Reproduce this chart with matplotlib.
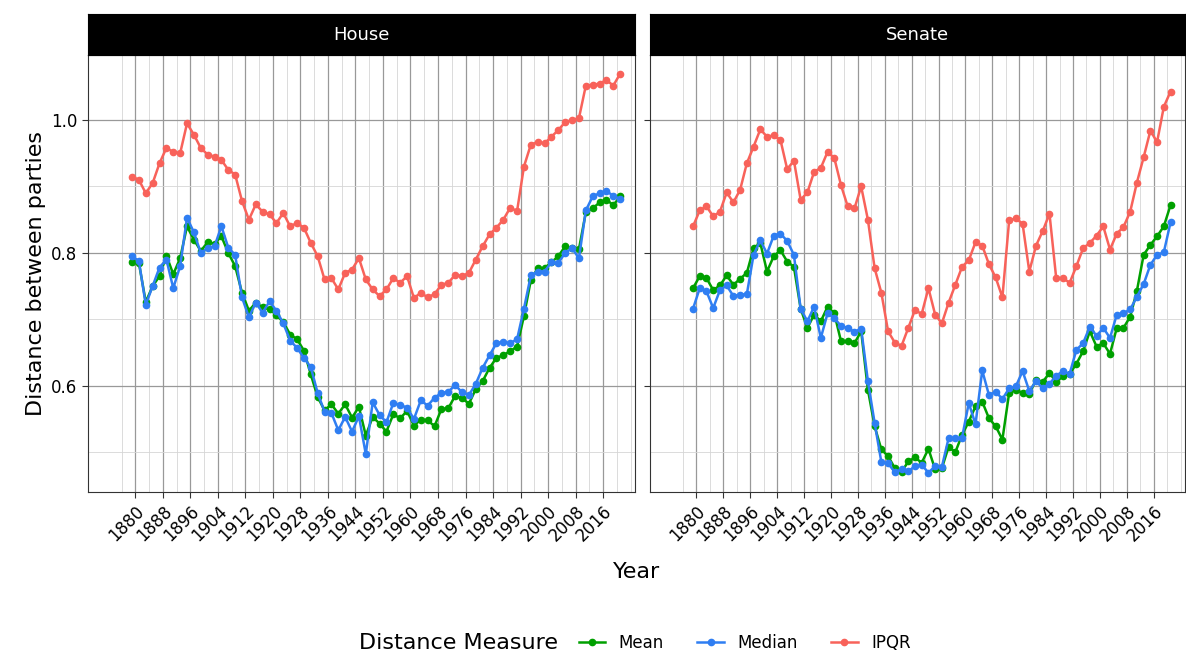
import numpy as np
import matplotlib.pyplot as plt
from matplotlib.lines import Line2D

years = np.arange(1879, 2022, 2)

house_mean = [.787, .785, .726, .75, .765, .796, .768, .792, .84, .82, .803, .816, .814, .825, .8, .78,
              .74, .713, .725, .718, .716, .706, .696, .677, .67, .653, .617, .583, .563, .572, .558, .572,
              .552, .568, .525,
              .553, .543, .531, .557, .551, .562, .54, .549, .548, .539, .565, .566, .585, .581, .573, .595,
              .607, .627, .642, .646, .652, .659, .705, .759, .777, .777, .786, .795, .81, .807, .806, .861,
              .867, .876, .88, .872, .885]
house_median = [.795, .788, .722, .75, .778, .79, .747, .78, .853, .831, .8, .807, .81, .84, .808, .797,
                .733, .703, .725, .71, .727, .713, .694, .668, .657, .642, .628, .589, .561, .559, .533, .553,
                .531, .554, .497,
                .575, .556, .545, .574, .571, .567, .55, .578, .57, .582, .589, .591, .601, .59, .586, .603,
                .627, .646, .664, .666, .664, .67, .716, .766, .772, .772, .786, .785, .8, .807, .792, .864,
                .885, .89, .893, .886, .881]
house_ipqr = [.915, .91, .89, .905, .935, .958, .952, .95, .995, .978, .958, .948, .945, .94, .925, .918,
              .878, .85, .873, .862, .858, .845, .86, .84, .845, .838, .815, .795, .76, .762, .745, .77,
              .775, .792, .76, .745, .735, .745, .762, .755, .765, .732, .74, .733, .738, .752, .755, .767,
              .765, .77, .79, .81, .828, .838, .85, .868, .863, .93, .963, .967, .965, .975, .985, .997,
              1.0, 1.003, 1.052, 1.053, 1.055, 1.06, 1.052, 1.07]

senate_mean = [.747, .765, .762, .744, .751, .766, .752, .761, .77, .807, .815, .772, .795, .804, .787, .779,
               .716, .687, .707, .697, .719, .709, .667, .667, .664, .682, .594, .539, .504, .494, .476, .47,
               .486, .492, .484, .505, .474, .476, .508, .5, .526, .546, .569, .576, .551, .539, .519, .589,
               .594, .589, .588, .609, .606, .619, .606, .614, .618, .633, .652, .682, .659, .664, .648, .687,
               .687, .704, .743, .797, .812, .825, .84, .872]
senate_median = [.716, .747, .742, .717, .744, .751, .735, .737, .738, .797, .819, .799, .826, .829, .818, .797,
                 .716, .697, .719, .672, .709, .702, .69, .687, .681, .686, .607, .544, .485, .483, .47, .474,
                 .471, .479, .481, .469, .479, .478, .521, .521, .522, .574, .542, .623, .586, .591, .58, .596,
                 .599, .622, .592, .607, .596, .603, .615, .622, .618, .654, .664, .689, .675, .687, .672, .707,
                 .709, .715, .734, .753, .782, .797, .801, .846]
senate_ipqr = [.84, .864, .87, .855, .862, .891, .876, .895, .935, .96, .986, .975, .977, .97, .926, .939,
               .88, .891, .922, .928, .952, .943, .902, .87, .867, .9, .85, .777, .74, .682, .665, .66,
               .687, .714, .708, .747, .707, .694, .725, .752, .779, .789, .816, .811, .783, .763, .733, .849,
               .852, .844, .772, .811, .833, .859, .762, .762, .755, .78, .807, .815, .826, .84, .805, .829,
               .839, .862, .906, .944, .984, .967, 1.02, 1.043]

panels = ["House", "Senate"]
data = {
    "House": [house_mean, house_median, house_ipqr],
    "Senate": [senate_mean, senate_median, senate_ipqr],
}
labels = ["Mean", "Median", "IPQR"]
colors = ["#00A000", "#2F7EF2", "#F8625A"]
xticks = np.arange(1880, 2017, 8)

fig = plt.figure(figsize=(11.86, 6.54), dpi=100)
W, H = 1186, 654
boxes = [(88, 635), (650, 1185)]
top, strip_top, bottom = 55, 14, 492

for i, p in enumerate(panels):
    x0, x1 = boxes[i]
    ax = fig.add_axes([x0 / W, 1 - bottom / H, (x1 - x0) / W, (bottom - top) / H])
    for vals, lab, c in zip(data[p], labels, colors):
        ax.plot(years, vals, color=c, lw=1.8, marker='o', ms=4.5, label=lab, zorder=3)
    ax.set_xlim(1866.2, 2025.3)
    ax.set_ylim(0.44, 1.098)
    ax.set_xticks(xticks)
    ax.set_xticklabels([str(x) for x in xticks], rotation=45, ha='right', rotation_mode='anchor', fontsize=12)
    ax.set_xticks(np.arange(1876, 2025, 4), minor=True)
    ax.set_yticks([0.6, 0.8, 1.0])
    ax.set_yticks([0.5, 0.7, 0.9], minor=True)
    ax.grid(True, which='major', color='#999999', lw=0.9)
    ax.grid(True, which='minor', color='#d6d6d6', lw=0.6)
    ax.set_axisbelow(True)
    for s in ax.spines.values():
        s.set_color('#333333')
    ax.tick_params(axis='both', which='major', labelsize=12, colors='#333333', labelcolor='black', length=4)
    ax.tick_params(which='minor', length=0)
    if i == 0:
        ax.set_yticklabels(["0.6", "0.8", "1.0"])
        ax.set_ylabel("Distance between parties", fontsize=16)
    else:
        ax.set_yticklabels([])
    sax = fig.add_axes([x0 / W, 1 - top / H, (x1 - x0) / W, (top - strip_top) / H])
    sax.set_facecolor('black')
    sax.set_xticks([]); sax.set_yticks([])
    sax.text(0.5, 0.5, p, color='white', fontsize=13, ha='center', va='center', transform=sax.transAxes)

fig.text((88 + 1185) / 2 / W, 1 - 572 / H, "Year", fontsize=16, ha='center', va='center')
fig.text(558 / W, 1 - 643 / H, "Distance Measure", fontsize=16, ha='right', va='center')
handles = [Line2D([], [], color=c, marker='o', ms=4.5, lw=1.8) for c in colors]
fig.legend(handles, labels, loc='center left', bbox_to_anchor=(572 / W, 1 - 643 / H),
           ncol=3, frameon=False, fontsize=12, handlelength=1.6, columnspacing=2.0, borderaxespad=0)

fig.savefig("out.png", dpi=100)
